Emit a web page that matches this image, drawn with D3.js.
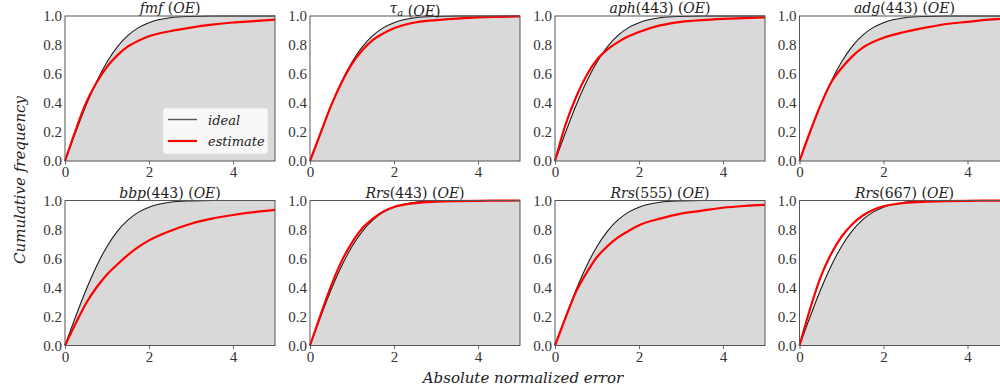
<!DOCTYPE html>
<html>
<head>
<meta charset="utf-8">
<script src="https://cdn.jsdelivr.net/npm/d3@7"></script>
<style>
  body { margin: 0; background: #fff; }
  svg { display: block; }
  .tick text { font-family: 'Liberation Serif', 'DejaVu Serif', serif; }
  .lbl { font-family: 'DejaVu Serif', serif; }
</style>
</head>
<body>
<div id="chart"></div>
<script>
// absolute normalized error grid (x values)
const errGrid = [0, 0.25, 0.5, 0.75, 1, 1.25, 1.5, 1.75, 2, 2.5, 3, 3.5, 4, 4.5, 5];
// ideal cumulative frequency, same on every panel
const idealCdf = [0, 0.197, 0.383, 0.547, 0.683, 0.789, 0.866, 0.920, 0.954, 0.988, 0.997, 1.0, 1.0, 1.0, 1.0];

// estimated cumulative frequency per panel
const fmfEst    = [0, 0.21, 0.40, 0.54, 0.65, 0.73, 0.79, 0.83, 0.86, 0.895, 0.92, 0.94, 0.955, 0.965, 0.975];
const tauEst    = [0, 0.19, 0.38, 0.54, 0.67, 0.765, 0.835, 0.88, 0.915, 0.955, 0.972, 0.982, 0.99, 0.994, 0.997];
const aphEst    = [0, 0.25, 0.44, 0.59, 0.70, 0.77, 0.82, 0.86, 0.89, 0.935, 0.96, 0.972, 0.98, 0.986, 0.99];
const adgEst    = [0, 0.20, 0.385, 0.54, 0.64, 0.72, 0.78, 0.82, 0.85, 0.89, 0.92, 0.945, 0.96, 0.975, 0.985];
const bbpEst    = [0, 0.15, 0.29, 0.40, 0.49, 0.56, 0.625, 0.68, 0.725, 0.79, 0.84, 0.875, 0.90, 0.92, 0.935];
const rrs443Est = [0, 0.21, 0.41, 0.58, 0.71, 0.81, 0.875, 0.925, 0.955, 0.982, 0.992, 0.996, 0.998, 0.999, 1.0];
const rrs555Est = [0, 0.19, 0.37, 0.50, 0.61, 0.685, 0.745, 0.79, 0.83, 0.875, 0.91, 0.93, 0.95, 0.962, 0.97];
const rrs667Est = [0, 0.25, 0.47, 0.63, 0.75, 0.835, 0.895, 0.935, 0.96, 0.983, 0.992, 0.996, 0.998, 0.999, 1.0];

const estimates = [fmfEst, tauEst, aphEst, adgEst, bbpEst, rrs443Est, rrs555Est, rrs667Est];

// panel titles: italic name, optional subscript, upright band
const titleName = ['fmf', 'τ', 'aph', 'adg', 'bbp', 'Rrs', 'Rrs', 'Rrs'];
const titleSub  = ['', 'a', '', '', '', '', '', ''];
const titleBand = ['', '', '(443)', '(443)', '(443)', '(443)', '(555)', '(667)'];

const xTicks = [0, 2, 4];
const yTicks = [0, 0.2, 0.4, 0.6, 0.8, 1.0];

const W = 1000, H = 389;
const panelW = 210, panelH = 145;
const colX = [65, 310, 555, 799.5];
const rowY = [16, 200.5];

const svg = d3.select('#chart').append('svg')
  .attr('width', W)
  .attr('height', H);

const x = d3.scaleLinear().domain([0, 5]).range([0, panelW]);
const y = d3.scaleLinear().domain([0, 1]).range([panelH, 0]);

const line = d3.line()
  .x(d => x(d[0]))
  .y(d => y(d[1]))
  .curve(d3.curveMonotoneX);

const area = d3.area()
  .x(d => x(d[0]))
  .y0(y(0))
  .y1(d => y(d[1]))
  .curve(d3.curveMonotoneX);

const idealPts = errGrid.map((e, i) => [e, idealCdf[i]]);

estimates.forEach((est, k) => {
  const g = svg.append('g')
    .attr('transform', `translate(${colX[k % 4]},${rowY[Math.floor(k / 4)]})`);

  g.append('rect')
    .attr('width', panelW).attr('height', panelH)
    .attr('fill', '#fff');

  g.append('path')
    .datum(idealPts)
    .attr('fill', '#d9d9d9')
    .attr('d', area);

  g.append('path')
    .datum(idealPts)
    .attr('fill', 'none')
    .attr('stroke', '#1a1a1a')
    .attr('stroke-width', 1.1)
    .attr('d', line);

  g.append('path')
    .datum(errGrid.map((e, i) => [e, est[i]]))
    .attr('fill', 'none')
    .attr('stroke', '#ff0000')
    .attr('stroke-width', 2.2)
    .attr('d', line);

  // axes
  const xAxis = g.append('g')
    .attr('transform', `translate(0,${panelH})`)
    .call(d3.axisBottom(x).tickValues(xTicks).tickSize(3.5).tickPadding(2).tickFormat(d3.format('d')));
  const yAxis = g.append('g')
    .call(d3.axisLeft(y).tickValues(yTicks).tickSize(0).tickPadding(3).tickFormat(d3.format('.1f')));
  [xAxis, yAxis].forEach(a => {
    a.attr('font-family', null);
    a.select('.domain').remove();
    a.selectAll('line').attr('stroke', '#444').attr('stroke-width', 0.8);
    a.selectAll('text')
      .attr('fill', '#333')
      .style('font-size', '15px');
  });

  g.append('rect')
    .attr('width', panelW).attr('height', panelH)
    .attr('fill', 'none')
    .attr('stroke', '#555')
    .attr('stroke-width', 1);

  // title
  const t = g.append('text')
    .attr('class', 'lbl')
    .attr('x', panelW / 2)
    .attr('y', -3)
    .attr('text-anchor', 'middle')
    .attr('fill', '#222')
    .style('font-size', '14px');
  t.append('tspan').style('font-style', 'italic').text(titleName[k]);
  if (titleSub[k]) {
    t.append('tspan').style('font-style', 'italic').style('font-size', '10px')
      .attr('dy', 3).text(titleSub[k]);
    t.append('tspan').attr('dy', -3).text('');
  }
  if (titleBand[k]) t.append('tspan').text(titleBand[k]);
  t.append('tspan').text(' ');
  t.append('tspan').text('(');
  t.append('tspan').style('font-style', 'italic').text('OE');
  t.append('tspan').text(')');

  // legend only in the first panel
  if (k === 0) {
    const lg = g.append('g').attr('transform', 'translate(98,92)');
    lg.append('rect')
      .attr('width', 105).attr('height', 46).attr('rx', 3)
      .attr('fill', '#fff').attr('fill-opacity', 0.8)
      .attr('stroke', '#e0e0e0').attr('stroke-width', 0.8);
    const items = [['ideal', '#555', 1.4], ['estimate', '#ff0000', 2.2]];
    items.forEach((it, i) => {
      const yy = 11.5 + i * 21.5;
      lg.append('line')
        .attr('x1', 5).attr('x2', 34).attr('y1', yy).attr('y2', yy)
        .attr('stroke', it[1]).attr('stroke-width', it[2]);
      lg.append('text')
        .attr('class', 'lbl')
        .attr('x', 45).attr('y', yy + 5)
        .style('font-style', 'italic').style('font-size', '13px')
        .attr('fill', '#222')
        .text(it[0]);
    });
  }
});

// shared labels
svg.append('text')
  .attr('class', 'lbl')
  .attr('transform', 'translate(25,180) rotate(-90)')
  .attr('text-anchor', 'middle')
  .style('font-style', 'italic')
  .style('font-size', '15px')
  .attr('fill', '#222')
  .text('Cumulative frequency');

svg.append('text')
  .attr('class', 'lbl')
  .attr('x', 523)
  .attr('y', 383)
  .attr('text-anchor', 'middle')
  .style('font-style', 'italic')
  .style('font-size', '15px')
  .attr('fill', '#222')
  .text('Absolute normalized error');
</script>
</body>
</html>
